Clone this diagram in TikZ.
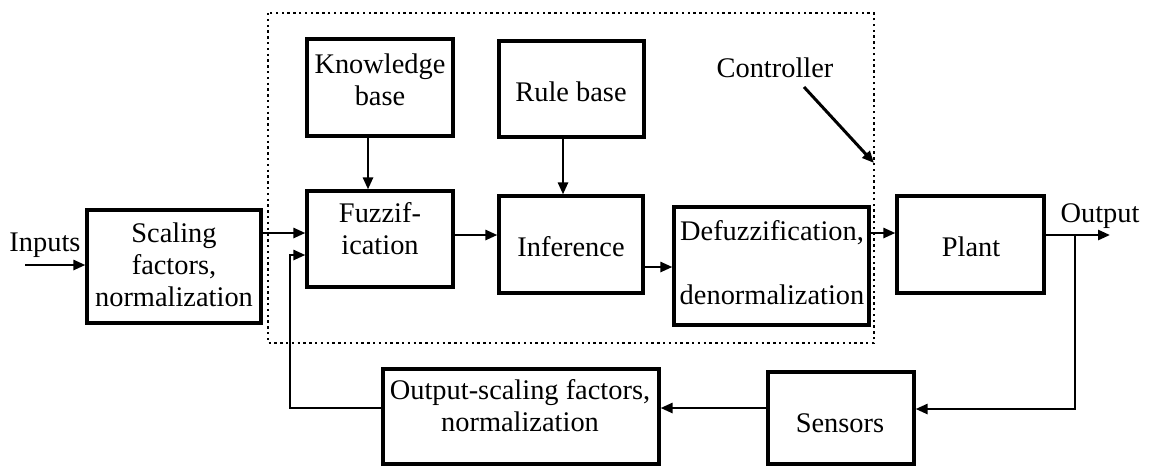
\documentclass[tikz,border=0pt]{standalone}
\usepackage{fontspec}
\setmainfont{Liberation Serif}
\usetikzlibrary{arrows.meta}
\begin{document}
\begin{tikzpicture}[x=0.5pt,y=-0.5pt,
  blk/.style={draw, line width=1.6pt, rectangle, inner sep=0pt},
  lbl/.style={font=\fontsize{14.2}{16}\selectfont, align=center, inner sep=0pt},
  conn/.style={line width=1.3pt, -{Triangle[length=6pt,width=5pt]}},
  ctlbox/.style={line width=1.3pt, dash pattern=on 1.2pt off 1.7pt}]
\useasboundingbox (0,0) rectangle (1150,467);

% controller boundary
\draw[ctlbox] (268,13) rectangle (874,343);

% blocks
\node[blk, minimum width=87pt,   minimum height=56.5pt] (scal)  at (174,266.5) {};
\node[blk, minimum width=73pt,   minimum height=48.5pt] (kb)    at (380,87.5)  {};
\node[blk, minimum width=72.5pt, minimum height=48pt]   (rb)    at (571.5,89)  {};
\node[blk, minimum width=73pt,   minimum height=48pt]   (fuz)   at (380,239)   {};
\node[blk, minimum width=72pt,   minimum height=48.5pt] (inf)   at (571,244.5) {};
\node[blk, minimum width=97.5pt, minimum height=59pt]   (def)   at (771.5,266) {};
\node[blk, minimum width=73.5pt, minimum height=48.5pt] (plant) at (970.5,244.5) {};
\node[blk, minimum width=73pt,   minimum height=46pt]   (sens)  at (841,418)   {};
\node[blk, minimum width=138pt,  minimum height=47.5pt] (osc)   at (521,416.5) {};

% block texts
\node[lbl] (scalT)  at (174,264.5) {Scaling\\factors,\\normalization};
\node[lbl] (kbT)    at (380,80)    {Knowledge\\base};
\node[lbl] (rbT)    at (571,92)    {Rule base};
\node[lbl] (fuzT)   at (380,229)   {Fuzzif-\\ication};
\node[lbl] (infT)   at (571,247)   {Inference};
\node[lbl] (defT)   at (772,262.5) {Defuzzification,\\ \\denormalization};
\node[lbl] (plantT) at (971,247)   {Plant};
\node[lbl] (sensT)  at (840,423)   {Sensors};
\node[lbl] (oscT)   at (520,406)   {Output-scaling factors,\\normalization};

% free labels
\node[lbl] (inp) at (45,245)   {Inputs};
\node[lbl] (out) at (1100,216) {Output};
\node[lbl] (ctl) at (775,68)   {Controller};

% free ends and bends
\coordinate (inl)   at (25,265);
\coordinate (outr)  at (1110,235);
\coordinate (br)    at (1075,235);
\coordinate (fbx)   at (290,408);
\coordinate (ctlfrom) at (804,87);
\coordinate (ctltip)  at (874,163);

% signal flow
\draw[conn] (inl) -- (scal.west |- inl);
\draw[conn] (scal.east |- 0,233) -- (fuz.west |- 0,233);
\draw[conn] (kb.south -| 368,0) -- (fuz.north -| 368,0);
\draw[conn] (rb.south -| 563,0) -- (inf.north -| 563,0);
\draw[conn] (fuz.east |- 0,235) -- (inf.west |- 0,235);
\draw[conn] (inf.east |- 0,267) -- (def.west |- 0,267);
\draw[conn] (def.east |- 0,233) -- (plant.west |- 0,233);
\draw[conn] (plant.east |- outr) -- (outr);

% feedback loop
\draw[conn] (br) -- (1075,409) -- (sens.east |- 0,409);
\draw[conn] (sens.west |- 0,408) -- (osc.east |- 0,408);
\draw[conn] (osc.west |- fbx) -- (fbx) -- (290,255) -- (fuz.west |- 0,255);

% controller pointer
\draw[conn, line width=1.5pt] (ctlfrom) -- (ctltip);
\end{tikzpicture}
\end{document}
